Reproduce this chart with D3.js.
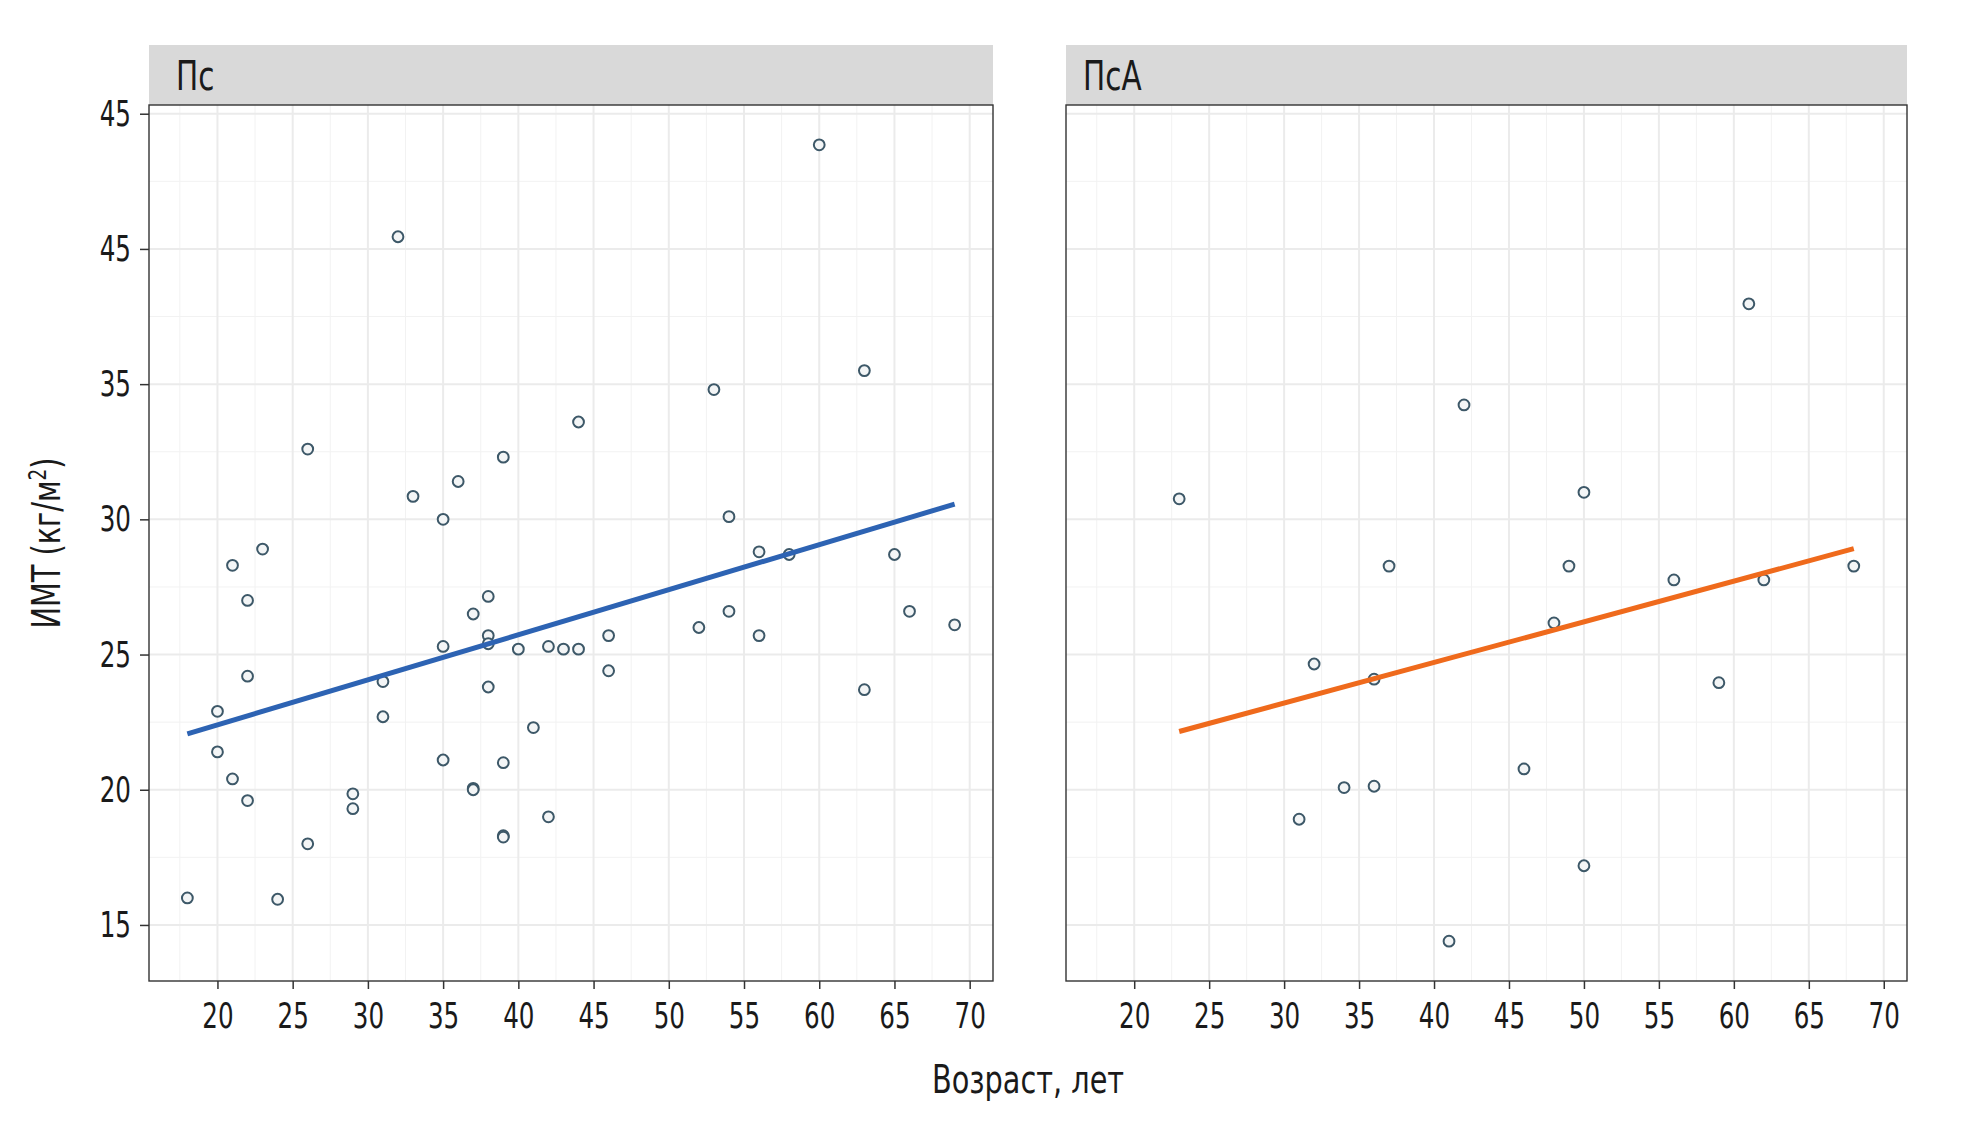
<!DOCTYPE html>
<html>
<head>
<meta charset="utf-8">
<script src="https://cdn.jsdelivr.net/npm/d3@7"></script>
<style>
	body { margin: 0; background: #fff; }
	svg text { font-family: "DejaVu Sans Condensed", "DejaVu Sans", sans-serif; font-stretch: condensed; fill: #1a1a1a; }
</style>
</head>
<body>
<svg></svg>
<script>
var psAge = [18, 20, 20, 21, 21, 22, 22, 22, 23, 24, 26, 26, 29, 29, 31, 31, 32, 33, 35, 35, 35, 36, 37, 37, 37,
		38, 38, 38, 38, 39, 39, 39, 39, 40, 41, 42, 42, 43, 44, 44, 46, 46, 52, 53, 54, 54, 56, 56, 58, 60, 63, 63,
		65, 66, 69];
var psBmi = [16.0, 22.9, 21.4, 28.3, 20.4, 27.0, 24.2, 19.6, 28.9, 15.95, 32.6, 18.0, 19.85, 19.3, 24.0, 22.7,
		40.45, 30.85, 30.0, 25.3, 21.1, 31.4, 26.5, 20.05, 20.0, 27.15, 25.7, 25.4, 23.8, 32.3, 21.0, 18.3, 18.25,
		25.2, 22.3, 25.3, 19.0, 25.2, 33.6, 25.2, 25.7, 24.4, 26.0, 34.8, 30.1, 26.6, 28.8, 25.7, 28.7, 43.85,
		35.5, 23.7, 28.7, 26.6, 26.1];
var psaAge = [23, 31, 32, 34, 36, 36, 37, 41, 42, 46, 48, 49, 50, 50, 56, 59, 61, 62, 68];
var psaBmi = [30.76, 18.91, 24.65, 20.08, 24.09, 20.13, 28.27, 14.4, 34.23, 20.77, 26.17, 28.27, 31.0, 17.19,
		27.76, 23.96, 37.97, 27.76, 28.27];
var panelNames = ['Пс', 'ПсА'];
var xTicks = [20, 25, 30, 35, 40, 45, 50, 55, 60, 65, 70];
var yTicks = [15, 20, 25, 30, 35, 40, 45];
var yTickLabels = ['15', '20', '25', '30', '35', '45', '45'];
var xTitle = 'Возраст, лет';

 //layout
var W = 1964, H = 1126,
		TOP = 105, BOTTOM = 981,
		STRIP_TOP = 45,
		lineColors = ['#2d63b3', '#ef6a1c'],
		panels = [
			{ x0: 149, x1: 993, name: panelNames[0], age: psAge, bmi: psBmi, color: lineColors[0], lx: 27 },
			{ x0: 1066, x1: 1907, name: panelNames[1], age: psaAge, bmi: psaBmi, color: lineColors[1], lx: 17 }
		];
var root = d3.select('svg').attr('width', W).attr('height', H);

 //squeeze text horizontally, the original font is a narrow one
function narrow(sel, k) {
	sel.each(function() {
		var t = d3.select(this), x = +t.attr('x') || 0;
		t.attr('x', x / k).attr('transform', (t.attr('transform') || '') + ' scale(' + k + ',1)');
	});
}

 //shared scales, ggplot style 5% expansion
var xExt = d3.extent(psAge.concat(psaAge)),
		yExt = d3.extent(psBmi.concat(psaBmi)),
		xPad = (xExt[1] - xExt[0]) * 0.05,
		yPad = (yExt[1] - yExt[0]) * 0.05;
var yDomain = [yExt[0] - yPad, yExt[1] + yPad];
var sy = d3.scaleLinear().domain(yDomain).range([BOTTOM, TOP]);

var xMinor = xTicks.map(function(d) { return d - 2.5; }),
		yMinor = yTicks.map(function(d) { return d - 2.5; })
			.filter(function(d) { return d > yDomain[0] && d < yDomain[1]; });

function fit(xs, ys) {
	var mx = d3.mean(xs), my = d3.mean(ys);
	var sxy = d3.sum(xs, function(x, i) { return (x - mx) * (ys[i] - my); }),
			sxx = d3.sum(xs, function(x) { return (x - mx) * (x - mx); });
	var b = sxy / sxx;
	return { a: my - b * mx, b: b };
}

panels.forEach(function(p, pi) {
	var sx = d3.scaleLinear().domain([xExt[0] - xPad, xExt[1] + xPad]).range([p.x0, p.x1]);
	var g = root.append('g');

	 //strip
	g.append('rect')
		.attr('x', p.x0).attr('y', STRIP_TOP)
		.attr('width', p.x1 - p.x0).attr('height', TOP - STRIP_TOP)
		.attr('fill', '#d9d9d9');
	g.append('text')
		.attr('x', p.x0 + p.lx).attr('y', 90)
		.style('font-size', '40px')
		.text(p.name)
		.call(narrow, 0.82);

	 //grid
	g.append('rect')
		.attr('x', p.x0).attr('y', TOP)
		.attr('width', p.x1 - p.x0).attr('height', BOTTOM - TOP)
		.attr('fill', '#fff');
	g.selectAll('.vminor').data(xMinor).enter().append('line')
		.attr('x1', sx).attr('x2', sx).attr('y1', TOP).attr('y2', BOTTOM)
		.attr('stroke', '#f2f2f2').attr('stroke-width', 1);
	g.selectAll('.hminor').data(yMinor).enter().append('line')
		.attr('y1', sy).attr('y2', sy).attr('x1', p.x0).attr('x2', p.x1)
		.attr('stroke', '#f2f2f2').attr('stroke-width', 1);
	g.selectAll('.vmajor').data(xTicks).enter().append('line')
		.attr('x1', sx).attr('x2', sx).attr('y1', TOP).attr('y2', BOTTOM)
		.attr('stroke', '#ebebeb').attr('stroke-width', 2);
	g.selectAll('.hmajor').data(yTicks).enter().append('line')
		.attr('y1', sy).attr('y2', sy).attr('x1', p.x0).attr('x2', p.x1)
		.attr('stroke', '#ebebeb').attr('stroke-width', 2);

	 //points
	g.selectAll('.pt').data(p.age).enter().append('circle')
		.attr('cx', function(d) { return sx(d); })
		.attr('cy', function(d, i) { return sy(p.bmi[i]); })
		.attr('r', 5.4)
		.attr('fill', '#f3f5f6')
		.attr('stroke', '#3d5868')
		.attr('stroke-width', 2);

	 //linear fit
	var f = fit(p.age, p.bmi),
			ax = d3.extent(p.age);
	g.append('line')
		.attr('x1', sx(ax[0])).attr('y1', sy(f.a + f.b * ax[0]))
		.attr('x2', sx(ax[1])).attr('y2', sy(f.a + f.b * ax[1]))
		.attr('stroke', p.color).attr('stroke-width', 5);

	 //border
	g.append('rect')
		.attr('x', p.x0).attr('y', TOP)
		.attr('width', p.x1 - p.x0).attr('height', BOTTOM - TOP)
		.attr('fill', 'none').attr('stroke', '#333').attr('stroke-width', 1.4);

	 //x axis
	var xa = g.append('g').attr('transform', 'translate(0,' + BOTTOM + ')')
		.call(d3.axisBottom(sx).tickValues(xTicks).tickSize(8).tickPadding(13));
	xa.select('.domain').remove();
	xa.selectAll('line').attr('stroke', '#333').attr('stroke-width', 1.5);
	xa.selectAll('text').attr('fill', '#1a1a1a').attr('font-family', null).style('font-size', '36px')
		.call(narrow, 0.76);

	 //y axis only on the first panel
	if(pi === 0) {
		var ya = g.append('g').attr('transform', 'translate(' + p.x0 + ',0)')
			.call(d3.axisLeft(sy).tickValues(yTicks)
				.tickFormat(function(d, i) { return yTickLabels[i]; })
				.tickSize(9).tickPadding(9));
		ya.select('.domain').remove();
		ya.selectAll('line').attr('stroke', '#333').attr('stroke-width', 1.5);
		ya.selectAll('text').attr('fill', '#1a1a1a').attr('font-family', null).style('font-size', '36px')
			.call(narrow, 0.76);
	}
});

 //axis titles
root.append('text')
	.attr('x', (panels[0].x0 + panels[1].x1) / 2).attr('y', 1093)
	.attr('text-anchor', 'middle')
	.style('font-size', '39px')
	.text(xTitle)
	.call(narrow, 0.82);

var yt = root.append('text')
	.attr('transform', 'translate(60,' + (TOP + BOTTOM) / 2 + ') rotate(-90)')
	.attr('text-anchor', 'middle')
	.style('font-size', '39px');
yt.append('tspan').text('ИМТ (кг/м');
yt.append('tspan').attr('baseline-shift', 'super').style('font-size', '25px').text('2');
yt.append('tspan').text(')');
yt.call(narrow, 0.82);
</script>
</body>
</html>
